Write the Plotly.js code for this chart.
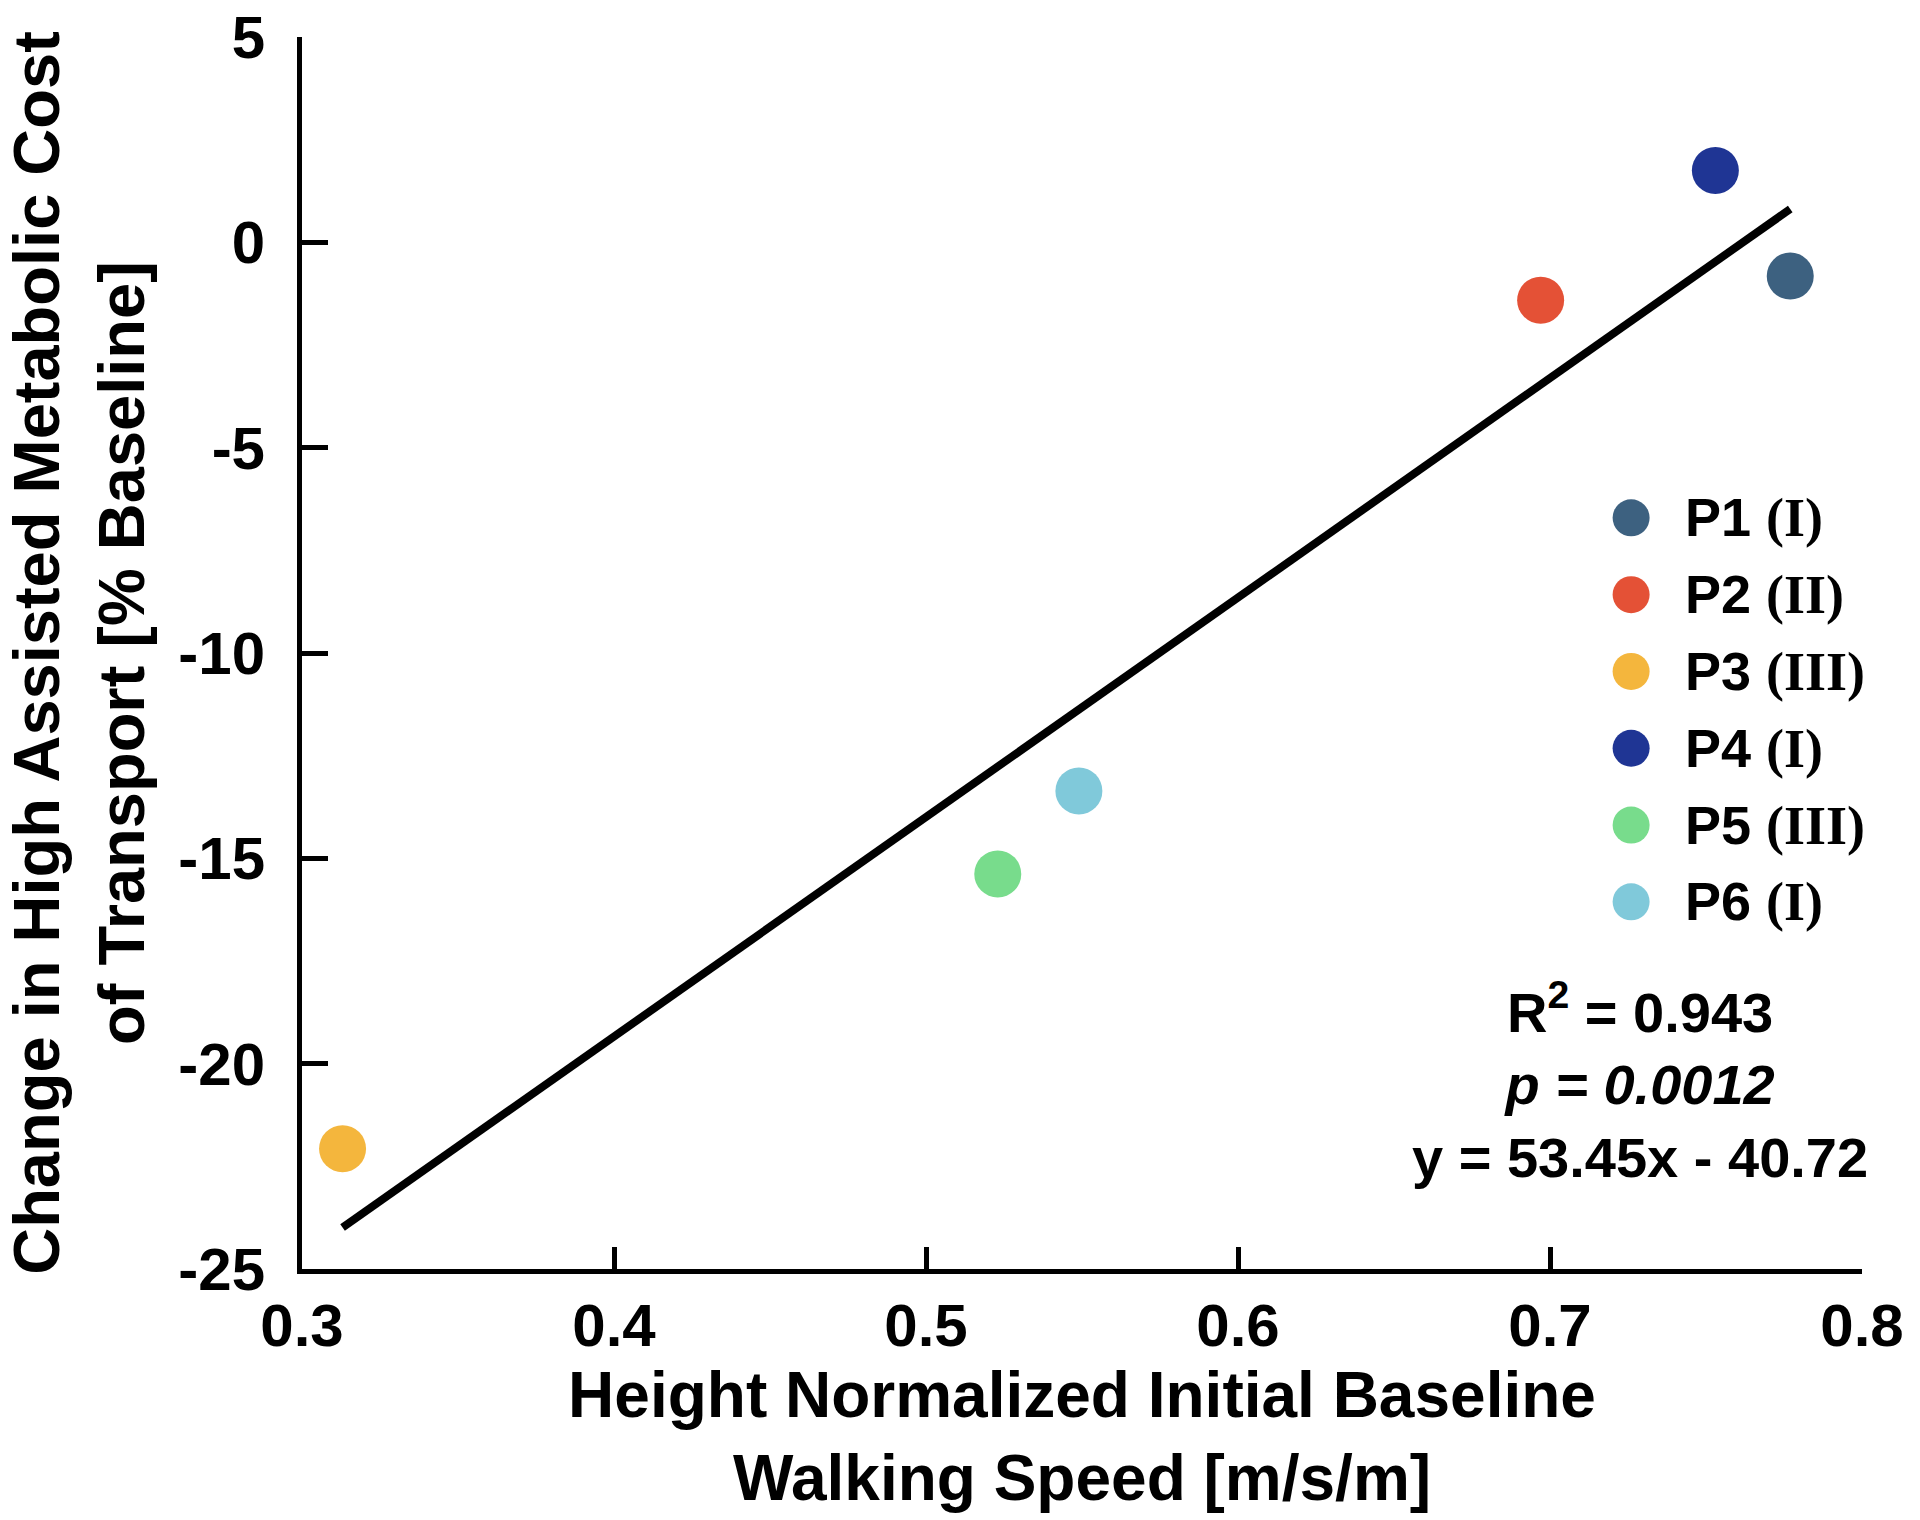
<!DOCTYPE html>
<html>
<head>
<meta charset="utf-8">
<script src="https://cdn.plot.ly/plotly-3.0.1.min.js"></script>
<style>
  html, body { margin: 0; padding: 0; background: #ffffff; }
  #chart { width: 1920px; height: 1520px; }
</style>
</head>
<body>
<div id="chart"></div>
<script>
// ---- data ----
var participants = ['P1', 'P2', 'P3', 'P4', 'P5', 'P6'];
var gmfcsLevel = ['I', 'II', 'III', 'I', 'III', 'I'];
var walkingSpeed = [0.777, 0.697, 0.313, 0.753, 0.523, 0.549];
var costChange = [-0.82, -1.41, -22.07, 1.75, -15.38, -13.36];
var pointColors = ['#3d6180', '#e45136', '#f4b63d', '#1f3594', '#78dc8c', '#80c9da'];
var fitSlope = 53.45;
var fitIntercept = -40.72;
var rSquared = '0.943';
var pValue = '0.0012';
var xTicks = [0.3, 0.4, 0.5, 0.6, 0.7, 0.8];
var yTicks = [-25, -20, -15, -10, -5, 0, 5];

var SANS = 'Liberation Sans, Arial, Helvetica, sans-serif';
var SERIF = 'Liberation Serif, Times New Roman, serif';

// regression line across the data range
var fitX = [Math.min.apply(null, walkingSpeed), Math.max.apply(null, walkingSpeed)];
var fitY = fitX.map(function (x) { return fitSlope * x + fitIntercept; });

var traces = [];
traces.push({
  type: 'scatter', mode: 'lines', x: fitX, y: fitY,
  line: { color: '#000000', width: 8 }, showlegend: false, hoverinfo: 'skip'
});
for (var i = 0; i < participants.length; i++) {
  traces.push({
    type: 'scatter', mode: 'markers',
    name: participants[i] + ' (' + gmfcsLevel[i] + ')',
    x: [walkingSpeed[i]], y: [costChange[i]],
    marker: { color: pointColors[i], size: 47, line: { width: 0 } },
    cliponaxis: false, showlegend: false
  });
}
// custom legend: one marker per participant on a hidden overlay axis
var legendIdx = participants.map(function (p, k) { return k; });
traces.push({
  type: 'scatter', mode: 'markers', xaxis: 'x2', yaxis: 'y2',
  x: participants.map(function () { return 0; }), y: legendIdx,
  marker: { color: pointColors, size: 37, line: { width: 0 } },
  cliponaxis: false, showlegend: false, hoverinfo: 'skip'
});

var annotations = participants.map(function (p, k) {
  return {
    xref: 'x2', yref: 'y2', x: 0, y: k, xanchor: 'left', yanchor: 'middle',
    xshift: 52, showarrow: false,
    text: '<span style="font-family:' + SANS + '">' + p + '</span> ' +
          '<span style="font-family:' + SERIF + '">(' + gmfcsLevel[k] + ')</span>',
    font: { family: SANS, size: 54, color: '#000000', weight: 'bold' }
  };
});
annotations.push({
  xref: 'paper', yref: 'paper', x: 0.858, y: 0.153,
  xanchor: 'center', yanchor: 'middle', align: 'center', showarrow: false,
  text: 'R<sup>2</sup> = ' + rSquared + '<br><i>p = ' + pValue + '</i><br>y = ' +
        fitSlope.toFixed(2) + 'x - ' + Math.abs(fitIntercept).toFixed(2),
  font: { family: SANS, size: 56, color: '#000000', weight: 'bold' }
});

var layout = {
  width: 1920, height: 1520,
  margin: { l: 302, r: 58, t: 37, b: 251, pad: 0 },
  paper_bgcolor: '#ffffff', plot_bgcolor: '#ffffff',
  showlegend: false,
  font: { family: SANS, color: '#000000' },
  xaxis: {
    range: [0.3, 0.8], tickvals: xTicks, ticktext: xTicks.map(function (v) { return v.toFixed(1); }),
    ticks: 'inside', ticklen: 22, tickwidth: 5, tickcolor: '#000000',
    showline: true, linewidth: 5, linecolor: '#000000', mirror: false,
    showgrid: false, zeroline: false,
    tickfont: { family: SANS, size: 60, color: '#000000', weight: 'bold' },
    title: {
      text: 'Height Normalized Initial Baseline<br>Walking Speed [m/s/m]',
      font: { family: SANS, size: 64, color: '#000000', weight: 'bold' },
      standoff: 12
    }
  },
  yaxis: {
    range: [-25, 5], tickvals: yTicks, ticktext: yTicks.map(function (v) { return String(v); }),
    ticks: 'inside', ticklen: 26, tickwidth: 5, tickcolor: '#000000',
    showline: true, linewidth: 5, linecolor: '#000000', mirror: false,
    showgrid: false, zeroline: false, ticklabelstandoff: 20,
    tickfont: { family: SANS, size: 60, color: '#000000', weight: 'bold' },
    title: {
      text: 'Change in High Assisted Metabolic Cost<br>of Transport [% Baseline]',
      font: { family: SANS, size: 65, color: '#000000', weight: 'bold' },
      standoff: 20
    }
  },
  xaxis2: { overlaying: 'x', visible: false, range: [-0.852, 0.148], fixedrange: true },
  yaxis2: { overlaying: 'y', visible: false, range: [9.78, -6.26], fixedrange: true },
  annotations: annotations
};

Plotly.newPlot('chart', traces, layout, { displayModeBar: false, staticPlot: true });
</script>
</body>
</html>
